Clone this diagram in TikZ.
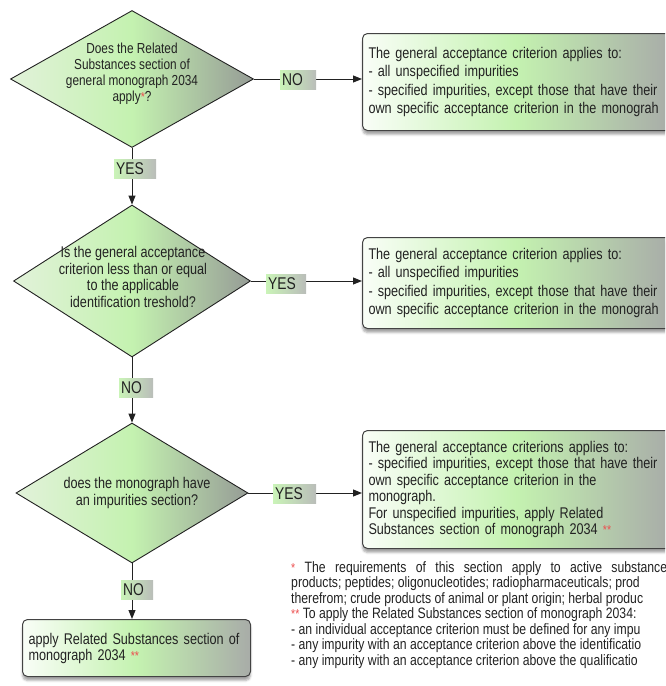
\documentclass[tikz,border=0pt]{standalone}
\usepackage{fontspec}
\setmainfont[FakeStretch=0.815]{Liberation Sans}
\usetikzlibrary{arrows.meta,shapes.geometric,shadows.blur}
\definecolor{paleleaf}{RGB}{226,242,218}
\definecolor{leafgreen}{RGB}{196,242,176}
\definecolor{ashgrey}{RGB}{150,156,150}
\definecolor{boxgrey}{RGB}{168,172,168}
\definecolor{starred}{RGB}{236,80,80}
\definecolor{inkgrey}{RGB}{34,34,34}
\tikzset{
  decision node/.style={
    diamond,
    draw=inkgrey,
    line width=0.9pt,
    inner sep=0pt,
    left color=paleleaf,
    right color=ashgrey,
    middle color=leafgreen
  },
  decision text/.style={align=center,inner sep=0pt,font=\fontsize{15.5}{16.5}\selectfont},
  result box/.style={
    rectangle,
    rounded corners=5pt,
    draw=inkgrey!85,
    line width=1pt,
    left color=white!90!leafgreen,
    right color=boxgrey,
    middle color=leafgreen,
    blur shadow={shadow xshift=0pt,shadow yshift=-4pt,shadow opacity=35},
    inner xsep=6pt,
    align=left,
    font=\fontsize{15.5}{18.5}\selectfont
  },
  answer tag/.style={
    anchor=west,
    left color=leafgreen!90!white,
    right color=boxgrey!80!white,
    inner xsep=2pt,
    inner ysep=1pt,
    minimum height=19pt,
    align=left,
    font=\fontsize{17}{19}\selectfont
  },
  link/.style={draw=inkgrey,line width=1pt},
  flow/.style={link,-{Triangle[length=9pt,width=7pt]}}
}
\newcommand{\redstar}[1]{\textcolor{starred}{\fontsize{13}{13}\selectfont #1}}

\begin{document}
\begin{tikzpicture}[x=1pt,y=-1pt,text=inkgrey]
  \useasboundingbox (0,0) rectangle (665,686);
  \clip (0,0) rectangle (665,686);

  \node[decision node,minimum width=243pt,minimum height=137pt] (d1) at (132,79) {};
  \node[decision node,minimum width=237pt,minimum height=152pt] (d2) at (132,281) {};
  \node[decision node,minimum width=232pt,minimum height=140pt] (d3) at (132,493) {};

  \node[decision text,font=\fontsize{14.5}{16}\selectfont] (q1) at (132,74)
    {Does the Related\\Substances section of\\general monograph 2034\\apply\redstar{*}?};
  \node[decision text] (q2) at (133,277)
    {Is the general acceptance\\criterion less than or equal\\to the applicable\\identification treshold?};
  \node[decision text] (q3) at (137,493)
    {does the monograph have\\an impurities section?};

  \node[result box,anchor=north west,minimum height=97pt,text width=296pt] (r1) at (362,33)
    {The general acceptance criterion applies to:\\
     - all unspecified impurities\\
     - specified impurities, except those that have their\\
     own specific acceptance criterion in the monograh};
  \node[result box,anchor=north west,minimum height=91pt,text width=296pt] (r2) at (362,237)
    {The general acceptance criterion applies to:\\
     - all unspecified impurities\\
     - specified impurities, except those that have their\\
     own specific acceptance criterion in the monograh};
  \node[result box,anchor=north west,minimum height=118pt,text width=296pt,
        font=\fontsize{15.5}{16.4}\selectfont] (r3) at (362,430)
    {The general acceptance criterions applies to:\\
     - specified impurities, except those that have their\\
     own specific acceptance criterion in the\\
     monograph.\\
     For unspecified impurities, apply Related\\
     Substances section of monograph 2034 \redstar{**}};
  \node[result box,anchor=north west,minimum height=57pt,text width=216pt,
        font=\fontsize{15.5}{16}\selectfont] (r4) at (22,619)
    {apply Related Substances section of\\
     monograph 2034 \redstar{**}};

  \draw[flow] (d1.south) -- (d2.north);
  \draw[flow] (d2.south) -- (d3.north);
  \draw[flow] (d3.south) -- (d3.south |- r4.north);
  \draw[flow] (d1.east) -- (d1.east -| r1.west);
  \draw[flow] (d2.east) -- (d2.east -| r2.west);
  \draw[flow] (d3.east) -- (d3.east -| r3.west);

  \node[answer tag,text width=38pt] (yesA) at (114,169) {YES};
  \node[answer tag,text width=32pt] (noA) at (280,80) {NO};
  \node[answer tag,text width=36pt] (yesB) at (266,284) {YES};
  \node[answer tag,text width=30pt] (noB) at (119,388) {NO};
  \node[answer tag,text width=39pt] (yesC) at (273,494) {YES};
  \node[answer tag,text width=28pt] (noC) at (121,590) {NO};

  \node[anchor=north west,align=left,inner sep=0pt,
        font=\fontsize{15}{15.5}\selectfont] (notes) at (291,561)
    {\makebox[376pt][s]{\redstar{*} The requirements of this section apply to active substance}\\
     products; peptides; oligonucleotides; radiopharmaceuticals; prod\\
     therefrom; crude products of animal or plant origin; herbal produc\\
     \redstar{**} To apply the Related Substances section of monograph 2034:\\
     - an individual acceptance criterion must be defined for any impu\\
     - any impurity with an acceptance criterion above the identificatio\\
     - any impurity with an acceptance criterion above the qualificatio};
\end{tikzpicture}
\end{document}
